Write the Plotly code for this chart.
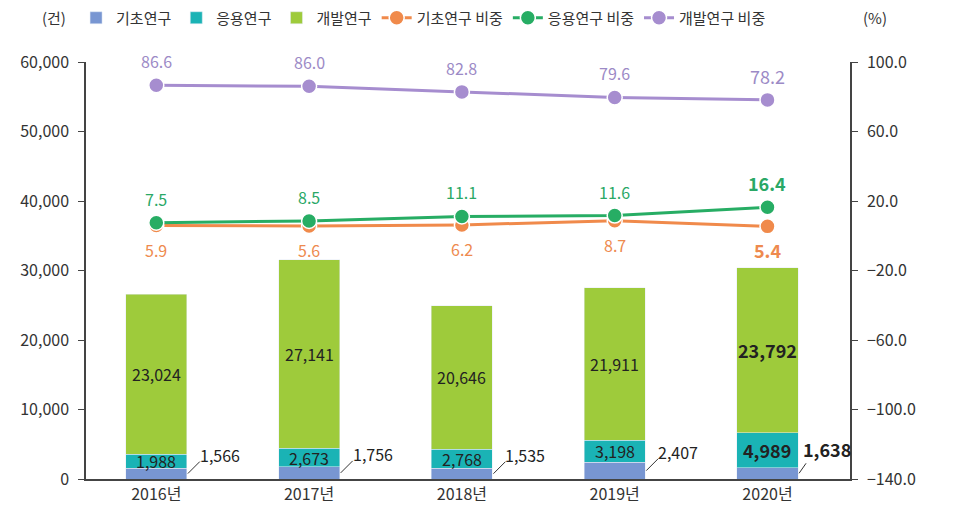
import plotly.graph_objects as go

years = ["2016년", "2017년", "2018년", "2019년", "2020년"]
basic = [1566, 1756, 1535, 2407, 1638]
applied = [1988, 2673, 2768, 3198, 4989]
dev = [23024, 27141, 20646, 21911, 23792]
basic_pct = [5.9, 5.6, 6.2, 8.7, 5.4]
applied_pct = [7.5, 8.5, 11.1, 11.6, 16.4]
dev_pct = [86.6, 86.0, 82.8, 79.6, 78.2]

FONT = "Noto Sans CJK KR, Noto Sans, sans-serif"
C_BASIC = "#7896d2"
C_APPL = "#1ab3b5"
C_DEV = "#9ecb3b"
C_LB = "#f08a4b"
C_LA = "#27ad64"
C_LD = "#a68dcf"
T_LB = "#ee8a4e"
T_LA = "#2aa866"
T_LD = "#9c8ac6"

fig = go.Figure()
fig.add_trace(go.Bar(x=years, y=basic, name="기초연구", marker_color=C_BASIC, width=0.4))
fig.add_trace(go.Bar(x=years, y=applied, name="응용연구", marker_color=C_APPL, width=0.4))
fig.add_trace(go.Bar(x=years, y=dev, name="개발연구", marker_color=C_DEV, width=0.4))

for name, vals, col in [("기초연구 비중", basic_pct, C_LB),
                        ("응용연구 비중", applied_pct, C_LA),
                        ("개발연구 비중", dev_pct, C_LD)]:
    fig.add_trace(go.Scatter(x=years, y=vals, name=name, yaxis="y2", mode="lines+markers",
                             line=dict(color=col, width=3),
                             marker=dict(color=col, size=15, line=dict(color="white", width=1.5))))

n = len(years)
last = n - 1
ann = []
shapes = []
for i in range(n):
    big = (i == last)
    fs = 18 if big else 16
    def fmt(v):
        s = f"{v:,}"
        return f"<b>{s}</b>" if big else s
    ann.append(dict(x=i, y=basic[i] + applied[i] / 2, xref="x", yref="y", text=fmt(applied[i]),
                    showarrow=False, font=dict(size=fs, color="#222")))
    ann.append(dict(x=i, y=basic[i] + applied[i] + dev[i] / 2, xref="x", yref="y", text=fmt(dev[i]),
                    showarrow=False, font=dict(size=fs, color="#222")))
    ann.append(dict(x=i + 0.2, y=basic[i] / 2, xref="x", yref="y", text=fmt(basic[i]),
                    showarrow=False, xanchor="left", yanchor="middle",
                    xshift=3 if big else 11, yshift=24 if big else 19,
                    font=dict(size=fs, color="#222")))
    shapes.append(dict(type="line", xref="x", yref="y", xsizemode="pixel", ysizemode="pixel",
                       xanchor=i + 0.2, yanchor=basic[i] / 2,
                       x0=1, x1=8 if big else 13, y0=0, y1=10 if big else 12,
                       line=dict(color="#333", width=1)))
    def pf(v, bold):
        s = f"{v:.1f}"
        return f"<b>{s}</b>" if bold else s
    ann.append(dict(x=i, y=dev_pct[i], xref="x", yref="y2", text=pf(dev_pct[i], False),
                    showarrow=False, yshift=24, font=dict(size=18 if big else 16, color=T_LD)))
    ann.append(dict(x=i, y=applied_pct[i], xref="x", yref="y2", text=pf(applied_pct[i], big),
                    showarrow=False, yshift=24, font=dict(size=18 if big else 16, color=T_LA)))
    ann.append(dict(x=i, y=basic_pct[i], xref="x", yref="y2", text=pf(basic_pct[i], big),
                    showarrow=False, yshift=-24, font=dict(size=18 if big else 16, color=T_LB)))

ANN_Y = 1 + (54 - 10) / 417
ann.append(dict(x=-0.024, y=ANN_Y, xref="paper", yref="paper", text="(건)", showarrow=False,
                xanchor="right", yanchor="middle", font=dict(size=15, color="#333")))
ann.append(dict(x=1.033, y=ANN_Y, xref="paper", yref="paper", text="(%)", showarrow=False,
                xanchor="center", yanchor="middle", font=dict(size=15, color="#333")))

fig.update_layout(
    width=942, height=506,
    margin=dict(l=78, r=100, t=54, b=35, autoexpand=False),
    paper_bgcolor="white", plot_bgcolor="white",
    barmode="stack",
    font=dict(family=FONT, size=16, color="#333"),
    showlegend=True,
    legend=dict(orientation="h", x=-0.013, xanchor="left",
                y=ANN_Y, yanchor="middle",
                traceorder="normal", font=dict(size=15, color="#333"),
                bgcolor="rgba(0,0,0,0)"),
    xaxis=dict(range=[-0.46, 4.54], showline=True, linecolor="#444", linewidth=1.5,
               ticks="", showgrid=False, tickfont=dict(size=16, color="#333")),
    yaxis=dict(range=[0, 60000], dtick=10000, tickformat=",", showline=True, linecolor="#444",
               linewidth=1.5, ticks="outside", ticklen=6, tickcolor="#444", showgrid=False,
               zeroline=False, ticklabelstandoff=6, tickfont=dict(size=16, color="#333")),
    yaxis2=dict(range=[-140, 100], tick0=-140, dtick=40, tickformat=".1f", overlaying="y",
                side="right", showline=True, linecolor="#444", linewidth=1.5, ticks="outside",
                ticklen=6, tickcolor="#444", showgrid=False, zeroline=False,
                ticklabelstandoff=6, tickfont=dict(size=16, color="#333")),
    annotations=ann,
    shapes=shapes,
)

fig.write_html("out.html")
